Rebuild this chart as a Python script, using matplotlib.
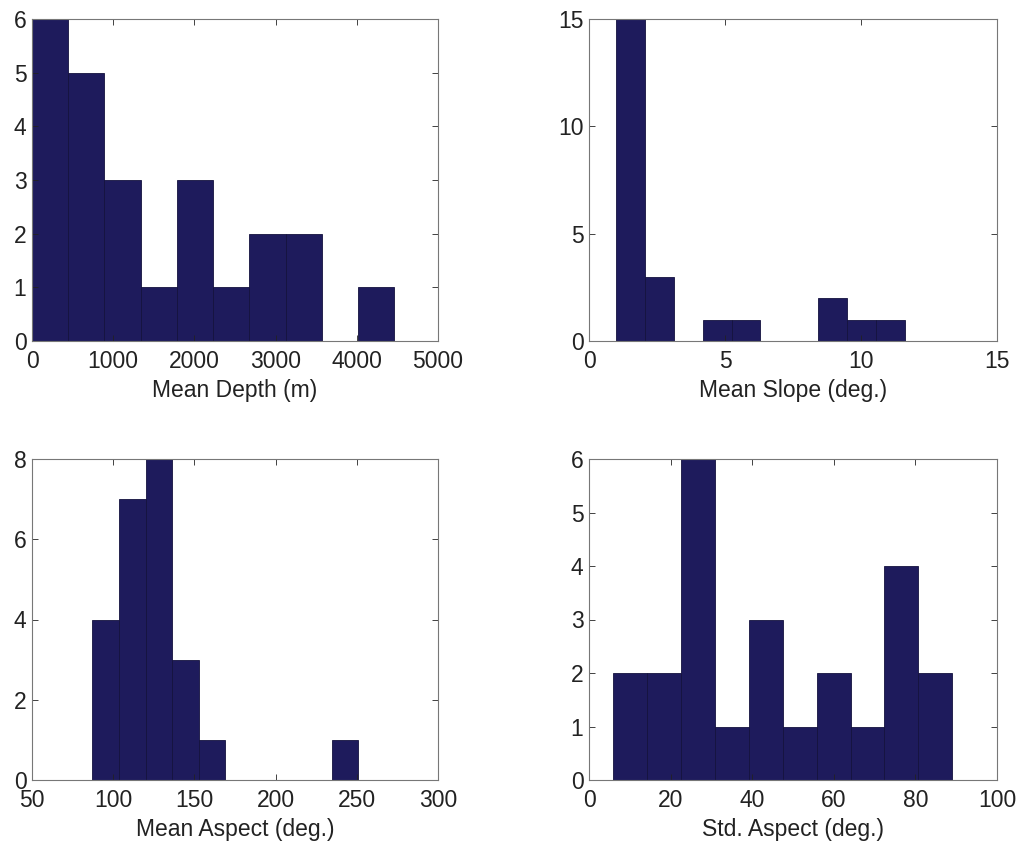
import numpy as np
import matplotlib
matplotlib.use('Agg')
import matplotlib.pyplot as plt

plt.rcParams['font.family'] = ['Liberation Sans', 'DejaVu Sans']

# histogram counts (10 bins each)
depth_counts  = [6, 5, 3, 1, 3, 1, 2, 2, 0, 1]
depth_edges   = [0, 4460]
slope_counts  = [15, 3, 0, 1, 1, 0, 0, 2, 1, 1]
slope_edges   = [1.0, 11.6]
aspect_counts = [4, 7, 8, 3, 1, 0, 0, 0, 0, 1]
aspect_edges  = [87.2, 251.0]
std_counts    = [2, 2, 6, 1, 3, 1, 2, 1, 4, 2]
std_edges     = [6.0, 89.0]

labels = ['Mean Depth (m)', 'Mean Slope (deg.)', 'Mean Aspect (deg.)', 'Std. Aspect (deg.)']
xlims  = [(0, 5000), (0, 15), (50, 300), (0, 100)]
xticks = [np.arange(0, 5001, 1000), np.arange(0, 16, 5), np.arange(50, 301, 50), np.arange(0, 101, 20)]
ylims  = [(0, 6), (0, 15), (0, 8), (0, 6)]
yticks = [np.arange(0, 7, 1), np.arange(0, 16, 5), np.arange(0, 9, 2), np.arange(0, 7, 1)]

counts = [depth_counts, slope_counts, aspect_counts, std_counts]
edges  = [depth_edges, slope_edges, aspect_edges, std_edges]

W, H = 1021, 842
fig = plt.figure(figsize=(W / 100, H / 100), dpi=100)
rects = [
    (32 / W, 1 - 341 / H, 406 / W, 322 / H),
    (589 / W, 1 - 341 / H, 408 / W, 322 / H),
    (32 / W, 1 - 780 / H, 406 / W, 321 / H),
    (589 / W, 1 - 780 / H, 408 / W, 321 / H),
]

bar_color = '#1e1b5c'
for i in range(4):
    ax = fig.add_axes(rects[i])
    c = np.array(counts[i])
    lo, hi = edges[i]
    e = np.linspace(lo, hi, len(c) + 1)
    ax.bar(e[:-1], c, width=np.diff(e), align='edge', color=bar_color,
           edgecolor='#14123e', linewidth=0.6)
    ax.set_xlim(*xlims[i])
    ax.set_ylim(*ylims[i])
    ax.set_xticks(xticks[i])
    ax.set_yticks(yticks[i])
    ax.tick_params(direction='in', top=True, right=True, length=4, width=0.6,
                   labelsize=16.5, colors='#222222')
    ax.tick_params(axis='x', pad=6.5)
    ax.tick_params(axis='y', pad=4)
    for s in ax.spines.values():
        s.set_color('#777777')
        s.set_linewidth(0.8)
    ax.set_xlabel(labels[i], fontsize=16.5, labelpad=4, color='#222222')

fig.savefig('out.png', dpi=100)
